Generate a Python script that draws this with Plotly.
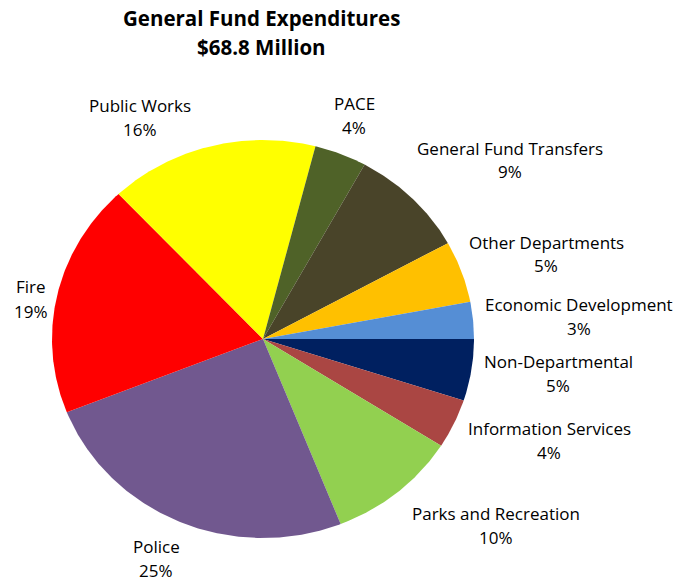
import numpy as np
import plotly.graph_objects as go

# General Fund expenditure shares (percent), clockwise from 3 o'clock
departments = [
    "Non-Departmental",
    "Information Services",
    "Parks and Recreation",
    "Police",
    "Fire",
    "Public Works",
    "PACE",
    "General Fund Transfers",
    "Other Departments",
    "Economic Development",
]
shares = [5, 4, 10, 25, 19, 16, 4, 9, 5, 3]
colors = [
    "#002060", "#AA4643", "#92D050", "#71588F", "#FF0000",
    "#FFFF00", "#4F6228", "#494429", "#FFC000", "#558ED5",
]
title_lines = ["General Fund Expenditures", "$68.8 Million"]

# Label block centres in pixels (x, y-from-top)
label_pos = [
    (558, 373), (549, 440), (496, 525), (156, 558), (31, 299),
    (140, 117), (354, 116), (510, 160), (546, 254), (579, 316),
]

W, H = 679, 581
CX, CY = 263, 339          # pie centre (px)
RX, RY = 211, 199          # horizontal / vertical radius (px)

FONT = "Open Sans"

fig = go.Figure()

total = float(sum(shares))
start = 0.0
for name, val, col in zip(departments, shares, colors):
    sweep = 360.0 * val / total
    ang = np.radians(np.linspace(start, start + sweep, max(int(sweep * 2), 4)))
    xs = np.concatenate([[0.0], np.cos(ang), [0.0]])
    ys = np.concatenate([[0.0], -np.sin(ang), [0.0]])
    fig.add_trace(go.Scatter(
        x=xs, y=ys, mode="lines", fill="toself", fillcolor=col,
        line=dict(width=0, color=col), name=name, hoverinfo="name",
        showlegend=False,
    ))
    start += sweep

def px_to_paper(px, py):
    return px / W, 1 - py / H

annotations = []
for name, val, (lx, ly) in zip(departments, shares, label_pos):
    for text, dy in ((name, -12), (f"{val}%", 12)):
        x, y = px_to_paper(lx, ly + dy)
        annotations.append(dict(
            x=x, y=y, xref="paper", yref="paper", text=text, showarrow=False,
            xanchor="center", yanchor="middle",
            font=dict(family=FONT, size=17, color="#000000"),
        ))

for text, ty in zip(title_lines, (18, 47)):
    x, y = px_to_paper(261, ty)
    annotations.append(dict(
        x=x, y=y, xref="paper", yref="paper", text=f"<b>{text}</b>",
        showarrow=False, xanchor="center", yanchor="middle",
        font=dict(family=FONT, size=20.5, color="#000000"),
    ))

fig.update_layout(
    width=W, height=H,
    margin=dict(l=0, r=0, t=0, b=0),
    paper_bgcolor="white", plot_bgcolor="white",
    xaxis=dict(range=[-CX / RX, (W - CX) / RX], visible=False, domain=[0, 1], fixedrange=True),
    yaxis=dict(range=[-(H - CY) / RY, CY / RY], visible=False, domain=[0, 1], fixedrange=True),
    annotations=annotations,
    showlegend=False,
)

fig.write_html("out.html")
